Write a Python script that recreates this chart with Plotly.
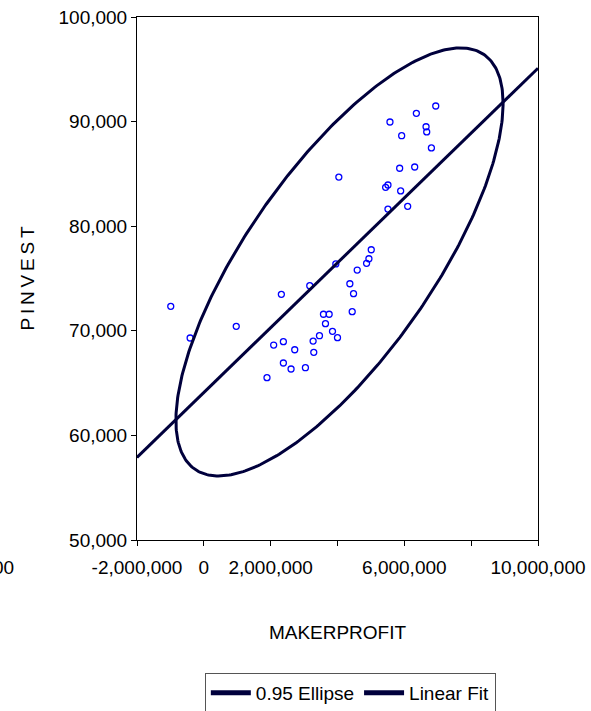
import numpy as np
import plotly.graph_objects as go

# MAKERPROFIT (x) and PINVEST (y)
makerprofit = [6.94e6, 6.36e6, 5.57e6, 6.65e6, 6.67e6, 5.92e6, 6.81e6, 5.86e6, 6.31e6, 4.04e6,
               5.51e6, 5.44e6, 5.89e6, 5.51e6, 6.10e6, 5.01e6, 4.94e6, 4.87e6, 3.95e6, 4.59e6,
               4.37e6, 4.48e6, 4.44e6, 3.17e6, 2.32e6, -0.99e6, 0.97e6, -0.41e6, 3.58e6, 3.75e6,
               3.64e6, 3.85e6, 4.00e6, 3.46e6, 3.27e6, 3.29e6, 2.09e6, 2.38e6, 2.72e6, 2.38e6,
               2.61e6, 3.04e6, 1.89e6]
pinvest = [91490, 90790, 89960, 89510, 89010, 88650, 87480, 85540, 85660, 84700,
           83940, 83720, 83370, 81640, 81900, 77750, 76890, 76450, 76390, 75810,
           74500, 73550, 71830, 74310, 73490, 72340, 70430, 69310, 71580, 71580,
           70680, 69950, 69340, 69530, 69020, 67940, 68640, 68960, 68190, 66920,
           66350, 66470, 65520]

# Linear fit line (value at the two ends of the x range)
fit_x = [-2e6, 1e7]
fit_y = [57900, 95100]

# 0.95 ellipse parameters
ellipse_center = [4.06e6, 76580]
ellipse_sd = [2.0e6, 8360]
ellipse_rho = 0.74
ellipse_level_chi2 = 5.991464547

x_tick_vals = [-2e6, 0, 2e6, 4e6, 6e6, 8e6, 1e7]
x_tick_text = ["-2,000,000", "0", "2,000,000", "", "6,000,000", "", "10,000,000"]
y_tick_vals = [50000, 60000, 70000, 80000, 90000, 100000]
y_tick_text = ["50,000", "60,000", "70,000", "80,000", "90,000", "100,000"]

# ellipse outline from its parameters
sx, sy = ellipse_sd
cov = np.array([[sx * sx, ellipse_rho * sx * sy], [ellipse_rho * sx * sy, sy * sy]])
vals, vecs = np.linalg.eigh(cov)
t = np.linspace(0, 2 * np.pi, 400)
circ = np.stack([np.cos(t), np.sin(t)])
pts = vecs @ (np.sqrt(vals)[:, None] * circ) * np.sqrt(ellipse_level_chi2) \
    + np.array(ellipse_center)[:, None]

navy = "#00003c"
font = dict(family="Liberation Sans, Arial, sans-serif", size=19, color="#000000")

fig = go.Figure()
fig.add_trace(go.Scatter(x=makerprofit, y=pinvest, mode="markers", showlegend=False,
                         marker=dict(symbol="circle-open", size=6, color="#0000ff",
                                     line=dict(width=1.3, color="#0000ff"))))
fig.add_trace(go.Scatter(x=pts[0], y=pts[1], mode="lines", showlegend=False,
                         line=dict(color=navy, width=3)))
fig.add_trace(go.Scatter(x=fit_x, y=fit_y, mode="lines", showlegend=False,
                         line=dict(color=navy, width=3)))
# legend entries (thicker sample lines)
fig.add_trace(go.Scatter(x=[None], y=[None], mode="lines", name="0.95 Ellipse",
                         line=dict(color=navy, width=5)))
fig.add_trace(go.Scatter(x=[None], y=[None], mode="lines", name="Linear Fit",
                         line=dict(color=navy, width=5)))

fig.update_layout(
    width=591, height=711,
    margin=dict(l=137, r=53, t=17, b=171, autoexpand=False),
    paper_bgcolor="white", plot_bgcolor="white",
    font=font,
    legend=dict(orientation="h", x=0.532, xanchor="center", y=-0.2543, yanchor="top",
                bordercolor="#555555", borderwidth=1, font=dict(size=19),
                itemwidth=40, tracegroupgap=0),
    xaxis=dict(range=[-2e6, 1e7], tickvals=x_tick_vals, ticktext=x_tick_text,
               automargin=False,
               showgrid=False, zeroline=False, showline=True, linecolor="#000000",
               linewidth=1, mirror=True, ticks="outside", ticklen=5, tickcolor="#000000",
               ticklabeloverflow="allow", ticklabelstandoff=5,
               title=dict(text="MAKERPROFIT", standoff=48, font=dict(size=19))),
    yaxis=dict(range=[50000, 100000], tickvals=y_tick_vals, ticktext=y_tick_text,
               automargin=False,
               showgrid=False, zeroline=False, showline=True, linecolor="#000000",
               linewidth=1, mirror=True, ticks="outside", ticklen=5, tickcolor="#000000",
               ticklabeloverflow="allow",
               title=dict(text="P\u2009I\u2009N\u2009V\u2009E\u2009S\u2009T", standoff=18,
                          font=dict(size=19))),
)
fig.add_annotation(text="00", xref="paper", yref="paper", x=(16 - 137) / 401,
                   xanchor="right", y=-(567 - 540) / 523, yanchor="middle",
                   showarrow=False, font=font)

fig.write_html("out.html",
               config={"displayModeBar": False, "responsive": False},
               post_script="document.body.style.margin='0';")
